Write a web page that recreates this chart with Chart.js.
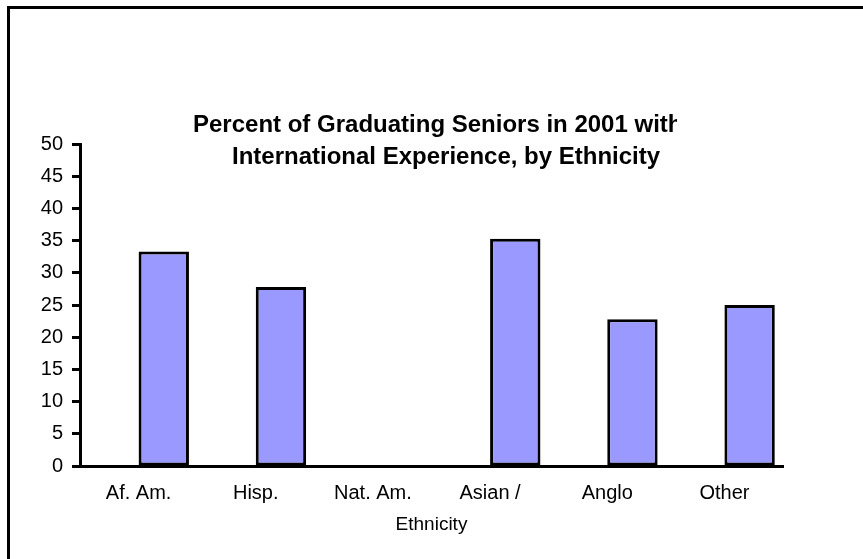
<!DOCTYPE html>
<html><head><meta charset="utf-8">
<script src="https://cdn.jsdelivr.net/npm/chart.js@4/dist/chart.umd.min.js"></script>
<style>html,body{margin:0;padding:0;background:#fff;overflow:hidden}canvas{display:block}</style>
</head><body>
<canvas id="c" width="863" height="559"></canvas>
<script>
const categories = ["Af. Am.", "Hisp.", "Nat. Am.", "Asian /", "Anglo", "Other"];
const spacerSeries = [null, null, null, null, null, null];
const percentValues = [33.3, 27.8, 0, 35.3, 22.8, 25.0];
const yMin = 0, yMax = 50, yStep = 5;
const titleLines = ["Percent of Graduating Seniors in 2001 with", "International Experience, by Ethnicity"];
const xAxisTitle = "Ethnicity";

const FONT = "'Liberation Sans', Arial, sans-serif";

const framePlugin = {
  id: 'frame',
  beforeDraw(chart) {
    const ctx = chart.ctx;
    ctx.save();
    ctx.fillStyle = '#fff';
    ctx.fillRect(0, 0, chart.width, chart.height);
    ctx.strokeStyle = '#000';
    ctx.lineWidth = 3;
    ctx.beginPath();
    ctx.moveTo(8.5, chart.height);
    ctx.lineTo(8.5, 7.5);
    ctx.lineTo(chart.width, 7.5);
    ctx.stroke();
    ctx.restore();
  },
  afterDraw(chart) {
    const ctx = chart.ctx;
    ctx.save();
    ctx.fillStyle = '#000';
    ctx.font = "bold 24px " + FONT;
    ctx.textBaseline = 'middle';
    ctx.textAlign = 'left';
    ctx.save();
    ctx.beginPath();
    ctx.rect(0, 0, 677, chart.height);
    ctx.clip();
    ctx.fillText(titleLines[0], 193, 125);
    ctx.restore();
    ctx.fillText(titleLines[1], 232, 157);
    ctx.restore();
  }
};

new Chart(document.getElementById('c'), {
  type: 'bar',
  data: {
    labels: categories,
    datasets: [
      { data: spacerSeries, backgroundColor: 'rgba(0,0,0,0)', borderWidth: 0 },
      { data: percentValues, backgroundColor: '#9999FF', borderColor: '#000', borderWidth: 3, borderSkipped: false }
    ]
  },
  options: {
    responsive: false,
    devicePixelRatio: 1,
    animation: false,
    categoryPercentage: 0.86,
    barPercentage: 1.0,
    layout: { padding: { left: 0, top: 144, right: 80, bottom: 19 } },
    plugins: { legend: { display: false }, title: { display: false }, tooltip: { enabled: false } },
    scales: {
      x: {
        grid: { display: false },
        border: { display: true, color: '#000', width: 3 },
        ticks: { color: '#000', font: { family: FONT, size: 20 }, padding: 7, maxRotation: 0, autoSkip: false },
        title: { display: true, text: xAxisTitle, color: '#000', font: { family: FONT, size: 19 }, padding: { top: 4 } },
        afterFit(s) { s.height = 74; }
      },
      y: {
        min: yMin, max: yMax,
        ticks: { stepSize: yStep, color: '#000', font: { family: FONT, size: 20 }, padding: 9 },
        grid: { drawOnChartArea: false, drawTicks: true, tickLength: 8, tickWidth: 3, tickColor: '#000', color: '#000' },
        border: { display: true, color: '#000', width: 3 },
        afterFit(s) { s.width = 80; }
      }
    }
  },
  plugins: [framePlugin]
});
</script>
</body></html>
